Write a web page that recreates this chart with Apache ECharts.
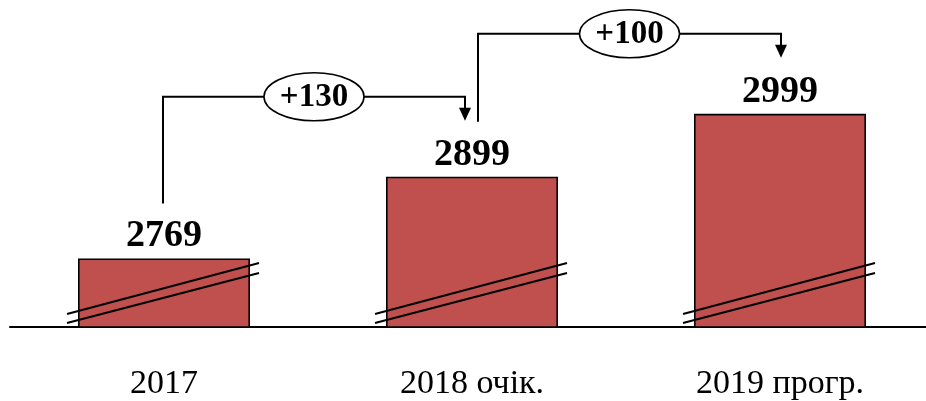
<!DOCTYPE html>
<html>
<head>
<meta charset="utf-8">
<script src="https://cdn.jsdelivr.net/npm/echarts@6/dist/echarts.min.js"></script>
<style>html,body{margin:0;padding:0;background:#fff;}#c{width:926px;height:401px;}</style>
</head>
<body>
<div id="c"></div>
<script>
var categories = ['2017', '2018 очік.', '2019 прогр.'];
var values = [2769, 2899, 2999];
var changes = ['+130', '+100'];
var axisMin = 2660;
var axisMax = 3180;

var serif = "'Liberation Serif','Times New Roman',serif";
var chart = echarts.init(document.getElementById('c'));

var arrowData = [];
for (var i = 0; i < changes.length; i++) {
  arrowData.push([i, i + 1, values[i], values[i + 1]]);
}
var breakData = categories.map(function (c, i) { return [i, axisMin]; });

chart.setOption({
  animation: false,
  grid: { left: 10, width: 924, top: 0, bottom: 74, containLabel: false, outerBoundsMode: 'none' },
  xAxis: {
    type: 'category',
    data: categories,
    axisTick: { show: false },
    axisLine: { lineStyle: { color: '#000', width: 2 } },
    axisLabel: { color: '#000', fontSize: 34, fontFamily: serif, margin: 40 }
  },
  yAxis: { type: 'value', min: axisMin, max: axisMax, show: false, splitLine: { show: false } },
  series: [
    {
      type: 'bar',
      data: values,
      barWidth: 172,
      itemStyle: { color: '#C0504D', borderColor: '#000', borderWidth: 1.6 },
      label: { show: true, position: 'top', distance: 3, color: '#000', fontSize: 38, fontWeight: 'bold', fontFamily: serif },
      z: 2
    },
    {
      type: 'custom',
      data: breakData,
      encode: { x: 0, y: 1 },
      z: 3,
      silent: true,
      renderItem: function (params, api) {
        var p = api.coord([api.value(0), api.value(1)]);
        var cx = p[0], b = p[1];
        var st = { stroke: '#000', lineWidth: 2 };
        return {
          type: 'group',
          children: [
            { type: 'line', shape: { x1: cx - 97, y1: b - 13, x2: cx + 95, y2: b - 64 }, style: st },
            { type: 'line', shape: { x1: cx - 97, y1: b - 4, x2: cx + 95, y2: b - 54 }, style: st }
          ]
        };
      }
    },
    {
      type: 'custom',
      data: arrowData,
      encode: { x: 0, y: 2 },
      z: 4,
      silent: true,
      clip: false,
      renderItem: function (params, api) {
        var from = api.value(0), to = api.value(1);
        var p0 = api.coord([from, api.value(2)]);
        var p1 = api.coord([to, api.value(3)]);
        var sx = p0[0] + (from === 1 ? 6 : -1);
        var ex = p1[0] + (to === 1 ? -7 : 1);
        var sy = p0[1] - 55;
        var hy = p1[1] - 80;
        var ty = p1[1] - 56;
        var st = { stroke: '#000', lineWidth: 2, fill: null };
        var mx = (sx + ex) / 2;
        return {
          type: 'group',
          children: [
            { type: 'polyline', shape: { points: [[sx, sy], [sx, hy], [ex, hy], [ex, ty - 11]] }, style: st },
            { type: 'polygon', shape: { points: [[ex - 6, ty - 13], [ex + 6, ty - 13], [ex, ty]] }, style: { fill: '#000' } },
            { type: 'ellipse', shape: { cx: mx, cy: hy, rx: 50, ry: 24 }, style: { fill: '#fff', stroke: '#000', lineWidth: 1.6 } },
            { type: 'text', x: mx, y: hy + 1, style: { text: changes[params.dataIndex], fill: '#000', font: 'bold 33px ' + serif, align: 'center', verticalAlign: 'middle' } }
          ]
        };
      }
    }
  ]
});
</script>
</body>
</html>
